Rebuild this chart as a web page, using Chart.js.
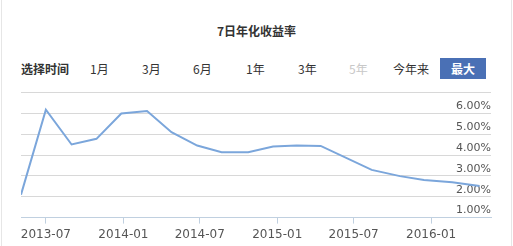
<!DOCTYPE html>
<html>
<head>
<meta charset="utf-8">
<script src="https://cdn.jsdelivr.net/npm/chart.js@4/dist/chart.umd.min.js"></script>
<style>
  body { margin: 0; background: #fff; }
  .box { position: absolute; left: 1px; top: 0; width: 509px; height: 246px; border-left: 1px solid #e6e6e6; border-right: 1px solid #e6e6e6; }
  .title { position: absolute; left: 0; width: 513px; top: 22px; text-align: center; font: bold 12px "Noto Sans CJK SC", sans-serif; color: #333; }
  .opt { position: absolute; top: 61px; font: 12px "Noto Sans CJK SC", sans-serif; color: #333; line-height: 16px; }
  .opt.label { font-weight: bold; }
  .opt.off { color: #c8c8c8; }
  .btn { position: absolute; left: 440px; top: 58px; width: 46px; height: 21px; background: #4a70b5; color: #fff; font: bold 12px "Noto Sans CJK SC", sans-serif; text-align: center; line-height: 21px; }
  #chart { position: absolute; left: 0; top: 86px; }
</style>
</head>
<body>
<div class="box"></div>
<div class="title">7日年化收益率</div>
<span class="opt label" style="left:21px">选择时间</span>
<span class="opt" style="left:90px">1月</span>
<span class="opt" style="left:142px">3月</span>
<span class="opt" style="left:193px">6月</span>
<span class="opt" style="left:246px">1年</span>
<span class="opt" style="left:298px">3年</span>
<span class="opt off" style="left:349px">5年</span>
<span class="opt" style="left:393px">今年来</span>
<div class="btn">最大</div>
<canvas id="chart" width="513" height="160"></canvas>
<script>
// 7-day annualised yield (%)
const dates = ["2013-05-03", "2013-07-01", "2013-08-31", "2013-10-29", "2013-12-27", "2014-02-26",
  "2014-04-25", "2014-06-25", "2014-08-22", "2014-10-24", "2014-12-22", "2015-02-16",
  "2015-04-14", "2015-08-13", "2015-10-19", "2015-12-15", "2016-02-20", "2016-04-25"];
const yields = [2.10, 6.18, 4.51, 4.78, 6.00, 6.12, 5.10, 4.46, 4.14, 4.14, 4.41, 4.46,
  4.44, 3.29, 2.99, 2.81, 2.70, 2.52];
const tickDates = ["2013-07-01", "2014-01-01", "2014-07-01", "2015-01-01", "2015-07-01", "2016-01-01"];
const tickLabels = ["2013-07", "2014-01", "2014-07", "2015-01", "2015-07", "2016-01"];
const rangeStart = "2013-05-03";
const rangeEnd = "2016-05-22";

const day = s => Date.parse(s + "T00:00:00Z") / 86400000;

new Chart(document.getElementById("chart"), {
  type: "line",
  data: {
    datasets: [{
      data: dates.map((d, i) => ({ x: day(d), y: yields[i] })),
      borderColor: "#7ba6db",
      borderWidth: 2,
      pointRadius: 0,
      tension: 0,
      fill: false
    }]
  },
  options: {
    responsive: false,
    animation: false,
    devicePixelRatio: 1,
    layout: { padding: { left: 21, right: 22, top: 6, bottom: 0 } },
    plugins: { legend: { display: false }, tooltip: { enabled: false } },
    scales: {
      x: {
        type: "linear",
        min: day(rangeStart),
        max: day(rangeEnd),
        afterBuildTicks: axis => { axis.ticks = tickDates.map(d => ({ value: day(d) })); },
        grid: { drawOnChartArea: false, drawTicks: true, tickLength: 6, color: "#c0d0e0" },
        border: { color: "#c0d0e0" },
        ticks: {
          autoSkip: false, maxRotation: 0, padding: 4,
          color: "#555", font: { family: "DejaVu Sans", size: 12 },
          callback: (v, i) => tickLabels[i]
        }
      },
      y: {
        position: "right",
        min: 1, max: 7,
        grid: { color: "#d8d8d8", drawTicks: false },
        border: { display: false },
        ticks: {
          stepSize: 1, mirror: true, padding: 0, labelOffset: -7,
          color: "#555", font: { family: "DejaVu Sans", size: 11 },
          callback: v => v === 7 ? "" : v.toFixed(2) + "%"
        }
      }
    }
  }
});
</script>
</body>
</html>
